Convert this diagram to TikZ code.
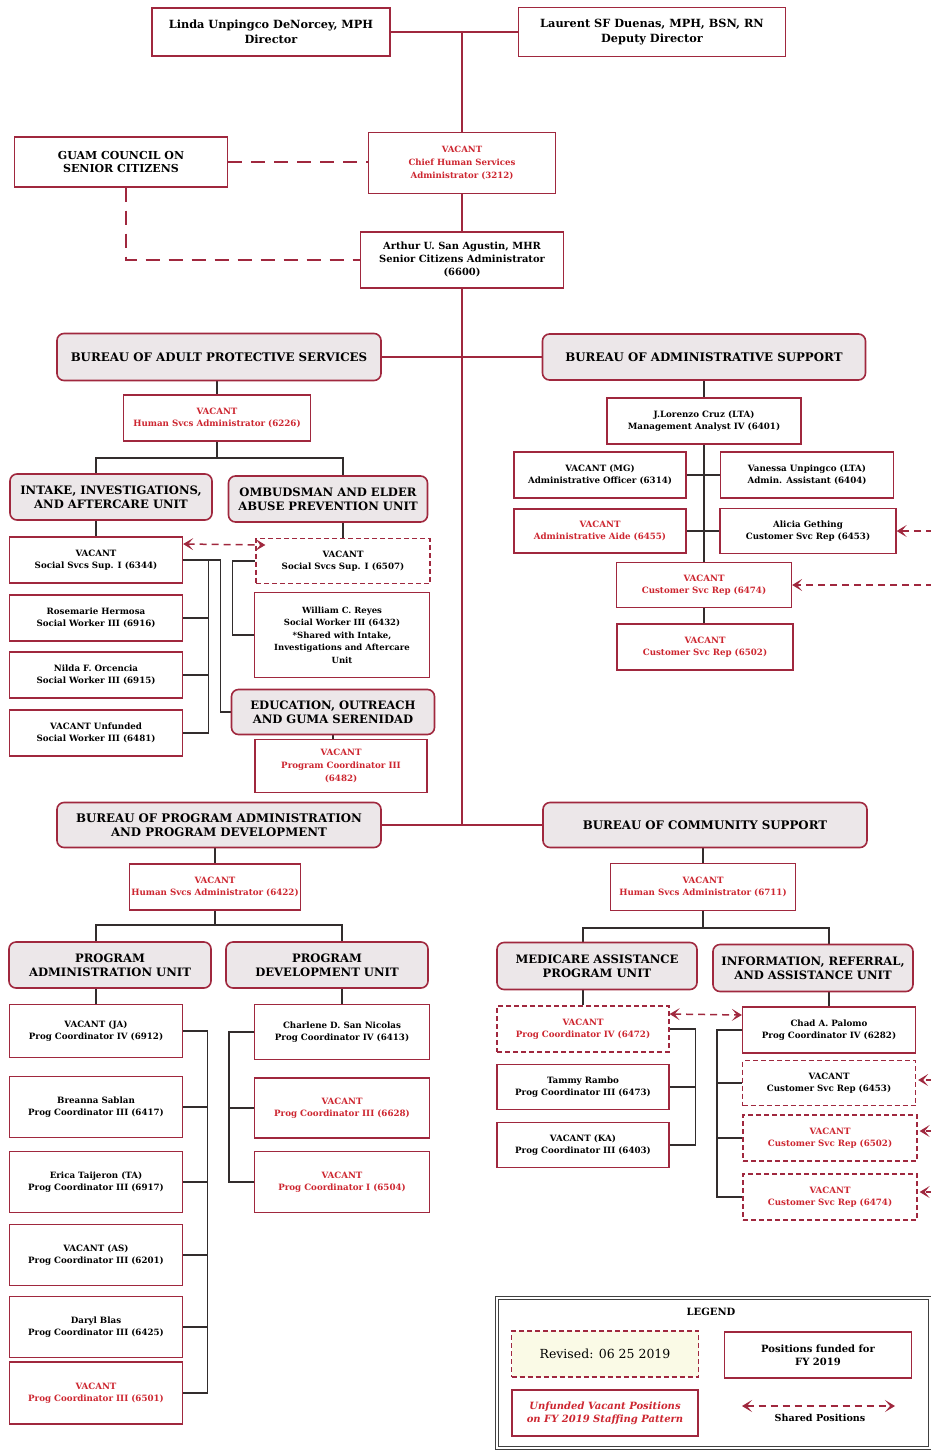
\documentclass[tikz,border=0pt]{standalone}
\usepackage{fontspec}
\setmainfont{DejaVu Serif}
\usetikzlibrary{arrows.meta}
\definecolor{bred}{RGB}{160,40,62}
\definecolor{tred}{RGB}{205,38,48}
\definecolor{bgray}{RGB}{236,231,233}
\definecolor{lyel}{RGB}{250,250,230}
\definecolor{cline}{RGB}{50,45,45}
\pgfdeclarelayer{bg}
\pgfsetlayers{bg,main}
\newcommand{\rt}[1]{\textcolor{tred}{#1}}
\begin{document}
\begin{tikzpicture}[x=1pt,y=-1pt,
  font=\bfseries\fontsize{8.7}{11.5}\selectfont,
  box/.style={draw=bred, line width=1.3pt, fill=white, align=center, inner sep=1pt},
  dbox/.style={box, dash pattern=on 5pt off 3pt},
  bur/.style={draw=bred, line width=1.6pt, fill=bgray, rounded corners=7pt, align=center, inner sep=1pt,
     font=\bfseries\fontsize{11.8}{13.5}\selectfont},
  unit/.style={bur, font=\bfseries\fontsize{11.6}{14}\selectfont},
  big/.style={font=\bfseries\fontsize{11.3}{14.5}\selectfont},
  wh/.style 2 args={minimum width=#1pt, minimum height=#2pt},
  conn/.style={draw=cline, line width=1.3pt},
  mline/.style={draw=bred, line width=1.8pt},
  rdash/.style={draw=bred, line width=2.8pt, dash pattern=on 14pt off 9pt},
  shared/.style={draw=bred, line width=1.5pt, dash pattern=on 7pt off 5pt},
  shtip/.style={-{Stealth[length=10pt,width=12pt,inset=5pt]}},
  shboth/.style={{Stealth[length=10pt,width=12pt,inset=5pt]}-{Stealth[length=10pt,width=12pt,inset=5pt]}}
]
\useasboundingbox (0,0) rectangle (931,1452);

% ---- top
\node[box,big,wh={238}{48}] (dir) at (271,32) {Linda Unpingco DeNorcey, MPH\\Director};
\node[box,big,wh={267}{49}] (dep) at (652,32) {Laurent SF Duenas, MPH, BSN, RN\\Deputy Director};
\node[box,wh={213}{50},font=\bfseries\fontsize{11}{13.5}\selectfont] (guam) at (121,162) {GUAM COUNCIL ON\\SENIOR CITIZENS};
\node[box,wh={187}{61},font=\bfseries\fontsize{8.6}{13}\selectfont] (chief) at (462,163) {\rt{VACANT}\\\rt{Chief Human Services}\\\rt{Administrator (3212)}};
\node[box,wh={203}{56},font=\bfseries\fontsize{9.9}{13}\selectfont] (art) at (462,260) {Arthur U. San Agustin, MHR\\Senior Citizens Administrator\\(6600)};

% ---- bureaus
\node[bur,wh={324}{47}] (aps) at (219,357) {BUREAU OF ADULT PROTECTIVE SERVICES};
\node[bur,wh={323}{46}] (adm) at (704,357) {BUREAU OF ADMINISTRATIVE SUPPORT};
\node[bur,wh={324}{45}] (pbur) at (219,825) {BUREAU OF PROGRAM ADMINISTRATION\\AND PROGRAM DEVELOPMENT};
\node[bur,wh={324}{45}] (cbur) at (705,825) {BUREAU OF COMMUNITY SUPPORT};

% ---- adult protective services
\node[box,wh={187}{46}] (apsv) at (217,418) {\rt{VACANT}\\\rt{Human Svcs Administrator (6226)}};
\node[unit,wh={202}{46}] (intake) at (111,497) {INTAKE, INVESTIGATIONS,\\AND AFTERCARE UNIT};
\node[unit,wh={199}{46}] (omb) at (328,499) {OMBUDSMAN AND ELDER\\ABUSE PREVENTION UNIT};
\node[box,wh={173}{46}] (v6344) at (96,560) {VACANT\\Social Svcs Sup. I (6344)};
\node[dbox,wh={174}{45}] (v6507) at (343,561) {VACANT\\Social Svcs Sup. I (6507)};
\node[box,wh={173}{46}] (ros) at (96,618) {Rosemarie Hermosa\\Social Worker III (6916)};
\node[box,wh={173}{46}] (nil) at (96,675) {Nilda F. Orcencia\\Social Worker III (6915)};
\node[box,wh={173}{46}] (vunf) at (96,733) {VACANT Unfunded\\Social Worker III (6481)};
\node[box,wh={175}{85},font=\bfseries\fontsize{8.5}{12.5}\selectfont] (will) at (342,635) {William C. Reyes\\Social Worker III (6432)\\*Shared with Intake,\\Investigations and Aftercare\\Unit};
\node[unit,wh={203}{45}] (edu) at (333,712) {EDUCATION, OUTREACH\\AND GUMA SERENIDAD};
\node[box,wh={172}{53},font=\bfseries\fontsize{8.7}{13}\selectfont] (v6482) at (341,766) {\rt{VACANT}\\\rt{Program Coordinator III}\\\rt{(6482)}};

% ---- administrative support
\node[box,wh={194}{46}] (cruz) at (704,421) {J.Lorenzo Cruz (LTA)\\Management Analyst IV (6401)};
\node[box,wh={172}{46}] (vmg) at (600,475) {VACANT (MG)\\Administrative Officer (6314)};
\node[box,wh={173}{46}] (van) at (807,475) {Vanessa Unpingco (LTA)\\Admin. Assistant (6404)};
\node[box,wh={172}{44}] (vaide) at (600,531) {\rt{VACANT}\\\rt{Administrative Aide (6455)}};
\node[box,wh={176}{45}] (ali) at (808,531) {Alicia Gething\\Customer Svc Rep (6453)};
\node[box,wh={175}{45}] (c6474) at (704,585) {\rt{VACANT}\\\rt{Customer Svc Rep (6474)}};
\node[box,wh={176}{46}] (c6502) at (705,647) {\rt{VACANT}\\\rt{Customer Svc Rep (6502)}};

% ---- program administration
\node[box,wh={171}{46}] (pv) at (215,887) {\rt{VACANT}\\\rt{Human Svcs Administrator (6422)}};
\node[unit,wh={202}{46}] (pau) at (110,965) {PROGRAM\\ADMINISTRATION UNIT};
\node[unit,wh={202}{46}] (pdu) at (327,965) {PROGRAM\\DEVELOPMENT UNIT};
\node[box,wh={173}{53}] (pja) at (96,1031) {VACANT (JA)\\Prog Coordinator IV (6912)};
\node[box,wh={173}{61}] (pbre) at (96,1107) {Breanna Sablan\\Prog Coordinator III (6417)};
\node[box,wh={173}{61}] (peri) at (96,1182) {Erica Taijeron (TA)\\Prog Coordinator III (6917)};
\node[box,wh={173}{61}] (pas) at (96,1255) {VACANT (AS)\\Prog Coordinator III (6201)};
\node[box,wh={173}{61}] (pdar) at (96,1327) {Daryl Blas\\Prog Coordinator III (6425)};
\node[box,wh={173}{62}] (p6501) at (96,1393) {\rt{VACANT}\\\rt{Prog Coordinator III (6501)}};
\node[box,wh={175}{55}] (pcha) at (342,1032) {Charlene D. San Nicolas\\Prog Coordinator IV (6413)};
\node[box,wh={175}{60}] (p6628) at (342,1108) {\rt{VACANT}\\\rt{Prog Coordinator III (6628)}};
\node[box,wh={175}{61}] (p6504) at (342,1182) {\rt{VACANT}\\\rt{Prog Coordinator I (6504)}};

% ---- community support
\node[box,wh={185}{47}] (cv) at (703,887) {\rt{VACANT}\\\rt{Human Svcs Administrator (6711)}};
\node[unit,wh={200}{47}] (med) at (597,966) {MEDICARE ASSISTANCE\\PROGRAM UNIT};
\node[unit,wh={200}{47}] (info) at (813,968) {INFORMATION, REFERRAL,\\AND ASSISTANCE UNIT};
\node[dbox,wh={172}{46}] (m6472) at (583,1029) {\rt{VACANT}\\\rt{Prog Coordinator IV (6472)}};
\node[box,wh={172}{45}] (mtam) at (583,1087) {Tammy Rambo\\Prog Coordinator III (6473)};
\node[box,wh={172}{45}] (mka) at (583,1145) {VACANT (KA)\\Prog Coordinator III (6403)};
\node[box,wh={173}{46}] (chad) at (829,1030) {Chad A. Palomo\\Prog Coordinator IV (6282)};
\node[dbox,wh={173}{45}] (i6453) at (829,1083) {VACANT\\Customer Svc Rep (6453)};
\node[dbox,wh={174}{46}] (i6502) at (830,1138) {\rt{VACANT}\\\rt{Customer Svc Rep (6502)}};
\node[dbox,wh={174}{46}] (i6474) at (830,1197) {\rt{VACANT}\\\rt{Customer Svc Rep (6474)}};

% ---- legend
\node[draw=black!75, line width=1pt, double, double distance=2pt, wh={433}{150}] (leg) at (713,1373) {};
\node[font=\bfseries\fontsize{10}{12}\selectfont] (legt) at (711,1312) {LEGEND};
\node[dbox,fill=lyel,wh={187}{46},font=\mdseries\fontsize{12.5}{14}\selectfont] (lrev) at (605,1354) {Revised: 06 25 2019};
\node[box,wh={187}{46},font=\bfseries\fontsize{10}{13}\selectfont] (lfund) at (818,1355) {Positions funded for\\FY 2019};
\node[box,wh={186}{46},font=\bfseries\itshape\fontsize{10}{13}\selectfont] (lunf) at (605,1413) {\rt{Unfunded Vacant Positions}\\\rt{on FY 2019 Staffing Pattern}};
\coordinate (la1) at (742,1406);
\coordinate (la2) at (895,1406);
\node[font=\bfseries\fontsize{9.6}{11}\selectfont] (lsh) at (820,1418) {Shared Positions};
\coordinate (r1) at (945,531);
\coordinate (r2) at (945,585);
\coordinate (r3) at (945,1080);
\coordinate (r4) at (945,1131);
\coordinate (r5) at (945,1192);
\coordinate (japs) at (217,458);
\coordinate (jp) at (215,925);
\coordinate (jc) at (703,928);

\begin{pgfonlayer}{bg}
\fill[white] (0,0) rectangle (931,1452);
% top
\draw[mline] (dir.east) -- (dep.west);
\draw[mline] (chief.north) -- (chief.north |- dir.east);
\draw[mline] (chief.south) -- (art.north);
\draw[mline] (art.south) -- (art.south |- pbur.east);
\draw[mline] (aps.east) -- (adm.west);
\draw[mline] (pbur.east) -- (cbur.west);
\draw[rdash] (guam.east) -- (chief.west |- guam.east);
\draw[rdash] ([xshift=5pt]guam.south) |- (art.west);
% APS
\draw[conn] (apsv.north) -- (apsv.north |- aps.south);
\draw[conn] (apsv.south) -- (japs);
\draw[conn] (v6344.north) |- (japs) -| (v6507.north);
\draw[conn] (v6344.east) -- ++(37,0) |- (edu.west);
\draw[conn] (v6344.east) -- ++(25,0) |- (vunf.east);
\draw[conn] (ros.east) -- ++(25,0);
\draw[conn] (nil.east) -- ++(25,0);
\draw[conn] (v6507.west) -- ++(-23,0) |- (will.west);
\draw[conn] (edu.south) -- (edu.south |- v6482.north);
% ADM
\draw[conn] (adm.south) -- (cruz.north);
\draw[conn] (cruz.south) -- (c6474.north);
\draw[conn] (c6474.south) -- (c6474.south |- c6502.north);
\draw[conn] (vmg.east) -- (van.west);
\draw[conn] (vaide.east) -- (ali.west);
% program
\draw[conn] (pv.north) -- (pv.north |- pbur.south);
\draw[conn] (pv.south) -- (jp);
\draw[conn] (pja.north) |- (jp) -| (pcha.north);
\draw[conn] (pja.east) -- ++(24,0) |- (p6501.east);
\draw[conn] (pbre.east) -- ++(24,0);
\draw[conn] (peri.east) -- ++(24,0);
\draw[conn] (pas.east) -- ++(24,0);
\draw[conn] (pdar.east) -- ++(24,0);
\draw[conn] (pcha.west) -- ++(-25,0) |- (p6504.west);
\draw[conn] (p6628.west) -- ++(-25,0);
% community
\draw[conn] (cv.north) -- (cv.north |- cbur.south);
\draw[conn] (cv.south) -- (jc);
\draw[conn] (m6472.north) |- (jc) -| (chad.north);
\draw[conn] (m6472.east) -- ++(26,0) |- (mka.east);
\draw[conn] (mtam.east) -- ++(26,0);
\draw[conn] (chad.west) -- ++(-25,0) |- (i6474.west);
\draw[conn] (i6453.west) -- ++(-25,0);
\draw[conn] (i6502.west) -- ++(-25,0);
\end{pgfonlayer}

% shared arrows
\draw[shared,shboth] ([yshift=16pt]v6344.east) -- ([xshift=10pt,yshift=16pt]v6507.west);
\draw[shared,shboth] ([yshift=15pt]m6472.east) -- ([yshift=15pt]chad.west);
\draw[shared,shtip] (r1) -- (ali.east);
\draw[shared,shtip] (r2) -- (c6474.east);
\draw[shared,shtip] (r3) -- ([xshift=2pt,yshift=3pt]i6453.east);
\draw[shared,shtip] (r4) -- ([xshift=2pt,yshift=7pt]i6502.east);
\draw[shared,shtip] (r5) -- ([xshift=2pt,yshift=5pt]i6474.east);
\draw[shared,shboth] (la1) -- (la2);
\end{tikzpicture}
\end{document}
